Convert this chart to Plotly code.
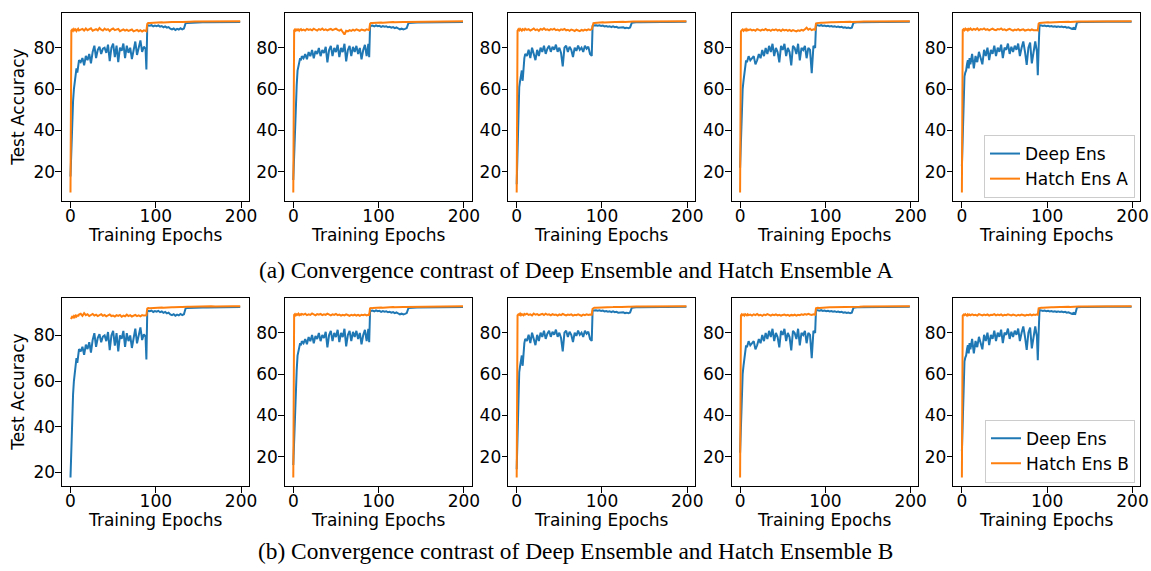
import plotly.graph_objects as go

W, H = 1151, 571

# ---------------- data ----------------
EPOCHS = [0, 1, 2, 3, 4, 5, 6, 7, 8, 9, 10,
          12, 14, 16, 18, 20, 22, 24, 26, 28, 30, 32, 34, 36, 38, 40, 42, 44, 46, 48, 50,
          52, 54, 56, 58, 60, 62, 64, 66, 68, 70, 72, 74, 76, 78, 80, 82, 84, 86, 88,
          89, 90, 91,
          93, 95, 97, 99, 101, 103, 105, 107, 109, 111, 113, 115, 117, 119, 121, 123, 125,
          127, 129, 131, 133, 135,
          137,
          140, 145, 150, 155, 160, 165, 170, 175, 180, 185, 190, 195,
          199]

DEEP_1 = [17.7, 31, 45, 54, 60, 64, 67, 70, 68, 72, 74,
          73, 75, 71.5, 76, 74, 77, 72.5, 78, 81, 75, 79, 80.5, 77, 79.5, 80, 77.5, 81.5, 73.5, 80, 82,
          75.5, 81, 73, 80, 78.5, 82, 75, 81, 77.5, 80, 74.5, 79, 83, 76.5, 80, 83.5, 78, 80.5, 79.5,
          69.5, 90.3, 90.8,
          90.6, 90.9, 90.3, 90.7, 90.4, 90.8, 90.2, 90.5, 89.9, 90.3, 89.7, 90.0, 89.2, 88.9, 89.3,
          88.6, 89.1, 88.8, 89.4, 88.9, 89.3, 91.9,
          92.0,
          92.1, 92.2, 92.2, 92.3, 92.3, 92.3, 92.4, 92.4, 92.4, 92.5, 92.5, 92.5,
          92.5]

DEEP_2 = [16, 30, 42, 52, 62, 69, 72, 73, 75, 74, 76,
          75, 77, 74.5, 78, 76, 79, 75, 78.5, 77, 80, 76, 79, 77.5, 80.5, 73, 79, 81, 76, 80, 78,
          81.5, 75.5, 80, 78, 82, 73.5, 79, 81, 76, 80.5, 78, 81, 77, 80, 74.5, 79, 81.5, 76, 82,
          75.5, 90.2, 90.7,
          90.8, 90.4, 90.9, 90.5, 90.7, 90.2, 90.6, 90.3, 90.5, 90.0, 90.2, 89.8, 90.1, 89.6, 89.9,
          89.4, 89.0, 89.3, 88.9, 89.2, 89.6, 92.0,
          92.2,
          92.2, 92.3, 92.3, 92.4, 92.4, 92.4, 92.5, 92.5, 92.5, 92.5, 92.6, 92.6,
          92.6]

DEEP_3 = [14, 35, 55, 61, 64, 67, 69, 64, 72, 75, 77,
          76, 79, 75, 80, 77.5, 74, 79, 76, 80, 78, 81, 77, 79.5, 81, 78, 80.5, 79, 81.5, 78, 80,
          77.5, 71, 80, 81, 78, 80.5, 79, 75.5, 80, 78.5, 81, 79, 80, 78, 81, 79.5, 80.5, 77, 76,
          90.5, 90.8, 90.9,
          90.9, 90.6, 90.8, 90.5, 90.7, 90.3, 90.5, 90.2, 90.4, 90.0, 90.3, 89.9, 90.1, 89.7, 89.8,
          89.6, 89.9, 89.5, 89.7, 89.4, 89.8, 92.1,
          92.3,
          92.3, 92.3, 92.4, 92.4, 92.4, 92.5, 92.5, 92.5, 92.5, 92.6, 92.6, 92.6,
          92.6]

DEEP_4 = [22, 38, 50, 60, 64, 68, 71, 74, 73, 75, 76,
          74, 75, 76, 72, 74, 77, 75, 79, 76, 80, 77, 81, 78, 82, 76, 80, 78, 73, 81, 79,
          82, 76, 80, 78, 71.5, 81, 80, 77, 82, 74, 80, 79, 81, 75, 80, 79, 67.8, 81, 80,
          91.0, 91.2, 91.0,
          90.8, 91.0, 90.6, 90.8, 90.5, 90.7, 90.4, 90.6, 90.3, 90.5, 90.1, 90.3, 90.0, 90.2, 89.8,
          90.0, 89.7, 89.9, 89.5, 89.8, 92.2, 92.4,
          92.4,
          92.4, 92.5, 92.5, 92.5, 92.5, 92.6, 92.6, 92.6, 92.6, 92.6, 92.6, 92.7,
          92.7]

DEEP_5 = [22.6, 40, 58, 66, 68, 69, 72, 74, 70, 75, 72,
          77, 70, 76, 73, 78, 75, 72, 79, 76, 80, 74, 79, 77, 81, 76, 80, 78, 81.5, 75, 80,
          79, 82, 77, 80.5, 78, 81, 79, 82, 76, 80, 83, 78, 71.7, 80, 82.5, 72.4, 79, 83, 78,
          66.7, 80, 90.9,
          90.8, 90.5, 90.7, 90.4, 90.6, 90.3, 90.5, 90.2, 90.4, 90.1, 90.3, 90.0, 90.2, 89.9, 90.1,
          89.7, 89.9, 89.4, 89.1, 89.6, 89.2, 92.3,
          92.4,
          92.4, 92.4, 92.5, 92.5, 92.5, 92.5, 92.6, 92.6, 92.6, 92.6, 92.6, 92.6,
          92.6]

HATCH_TAIL_1 = [91.9, 92.0, 92.1, 92.0, 92.2, 92.1, 92.2, 92.3, 92.2, 92.3, 92.3, 92.4, 92.3, 92.4,
                92.4, 92.5, 92.4, 92.5, 92.5, 92.5, 92.6, 92.6,
                92.6,
                92.6, 92.7, 92.7, 92.7, 92.7, 92.8, 92.7, 92.8, 92.8, 92.8, 92.8, 92.8,
                92.8]
HATCH_TAIL_2 = [92.0, 92.1, 92.1, 92.2, 92.2, 92.3, 92.2, 92.3, 92.3, 92.4, 92.4, 92.4, 92.5, 92.4,
                92.5, 92.5, 92.5, 92.6, 92.6, 92.6, 92.6, 92.7,
                92.7,
                92.7, 92.7, 92.8, 92.8, 92.8, 92.8, 92.8, 92.8, 92.9, 92.9, 92.9, 92.9,
                92.9]
HATCH_TAIL_3 = [92.1, 92.1, 92.2, 92.2, 92.3, 92.2, 92.3, 92.3, 92.4, 92.4, 92.4, 92.5, 92.4, 92.5,
                92.5, 92.5, 92.6, 92.5, 92.6, 92.6, 92.6, 92.7,
                92.7,
                92.7, 92.7, 92.7, 92.8, 92.8, 92.8, 92.8, 92.8, 92.8, 92.8, 92.8, 92.8,
                92.8]
HATCH_TAIL_4 = [92.1, 92.2, 92.2, 92.3, 92.3, 92.3, 92.4, 92.4, 92.4, 92.5, 92.4, 92.5, 92.5, 92.6,
                92.5, 92.6, 92.6, 92.6, 92.7, 92.6, 92.7, 92.7,
                92.7,
                92.7, 92.8, 92.8, 92.8, 92.8, 92.8, 92.8, 92.9, 92.8, 92.9, 92.9, 92.9,
                92.9]

HATCH_A_1 = [10, 88.3, 88.8, 88.2, 89.0, 88.5, 88.9, 88.1, 88.7, 89.2, 88.4,
             88.6, 89.1, 88.3, 89.3, 88.5, 88.9, 89.4, 88.2, 88.8, 89.0, 88.4, 89.5, 88.7, 88.3, 89.2,
             88.6, 89.0, 88.1, 88.9, 89.3, 88.5, 88.8, 89.1, 88.0, 88.6, 88.9, 88.3, 88.7, 88.1, 88.5,
             88.8, 87.9, 88.4, 88.6, 88.0, 88.5, 87.8, 88.4, 88.2,
             88.0, 91.5, 91.9] + HATCH_TAIL_1
HATCH_A_2 = [10, 88.5, 89.0, 88.4, 88.9, 88.6, 89.2, 88.3, 88.8, 89.1, 88.5,
             88.9, 88.4, 89.2, 88.7, 89.0, 88.5, 89.3, 88.8, 88.4, 89.1, 88.7, 89.4, 88.6, 89.0, 88.5,
             88.9, 89.2, 88.6, 88.9, 89.3, 88.7, 88.4, 88.9, 87.5, 86.5, 88.3, 88.0, 88.6, 88.2, 88.8,
             88.4, 89.0, 88.5, 88.3, 88.9, 88.6, 88.4, 89.0, 88.7,
             88.6, 91.7, 92.0] + HATCH_TAIL_2
HATCH_A_3 = [10, 88.2, 88.9, 88.4, 89.1, 88.6, 88.3, 89.0, 88.7, 88.5, 89.2,
             88.6, 89.0, 88.3, 88.8, 89.3, 88.5, 88.9, 88.2, 89.1, 88.7, 89.4, 88.6, 88.9, 88.4, 89.0,
             88.7, 89.2, 88.5, 88.8, 88.3, 88.9, 88.6, 89.1, 88.4, 88.7, 88.2, 88.8, 88.5, 88.1, 88.7,
             88.4, 88.0, 88.6, 88.3, 88.8, 88.4, 88.9, 88.6, 88.9,
             91.5, 91.9, 92.0] + HATCH_TAIL_3
HATCH_A_4 = [10, 88.0, 88.6, 88.9, 88.3, 88.8, 88.5, 89.1, 88.4, 88.9, 88.6,
             89.0, 88.5, 88.8, 88.3, 89.1, 88.7, 88.4, 88.9, 88.6, 89.2, 88.5, 88.8, 88.3, 88.9, 88.6,
             89.0, 88.4, 88.7, 88.2, 88.9, 88.5, 88.8, 88.3, 88.7, 88.1, 88.6, 88.4, 88.0, 88.5, 88.2,
             88.7, 88.4, 89.0, 89.8, 88.8, 89.3, 88.6, 89.0, 88.8,
             91.8, 92.0, 92.1] + HATCH_TAIL_4
HATCH_A_5 = [10, 88.6, 89.0, 88.5, 89.2, 88.7, 89.0, 88.4, 89.1, 88.8, 89.3,
             88.6, 89.1, 88.7, 89.4, 88.5, 89.0, 88.8, 89.3, 88.6, 89.0, 88.4, 88.9, 89.2, 88.7, 88.5,
             89.0, 88.8, 89.3, 88.6, 88.9, 88.4, 88.8, 89.1, 88.6, 88.3, 88.8, 88.5, 89.0, 88.4, 88.7,
             88.9, 88.3, 88.6, 88.8, 88.4, 88.9, 88.5, 88.7, 88.6,
             88.4, 91.7, 92.0] + HATCH_TAIL_3

HATCH_B_1 = [87.8, 87.6, 88.2, 87.9, 88.5, 88.0, 88.7, 88.3, 89.0, 88.4, 89.2,
             89.5, 88.6, 89.8, 88.9, 89.3, 88.5, 89.0, 89.4, 88.7, 89.1, 88.5, 88.9, 89.3, 88.6, 89.0,
             88.4, 88.8, 89.2, 88.5, 88.7, 88.3, 88.9, 88.6, 89.0, 88.2, 88.7, 88.4, 89.1, 88.5, 88.9,
             88.3, 88.6, 89.0, 88.5, 88.8, 88.4, 88.9, 88.7, 89.0,
             88.8, 91.8, 92.0] + HATCH_TAIL_1
HATCH_B_2 = [10, 88.7, 89.1, 88.5, 89.0, 88.8, 89.3, 88.6, 89.0, 88.7, 89.2,
             88.8, 89.3, 88.6, 89.0, 88.7, 89.4, 88.9, 88.5, 89.1, 88.8, 89.2, 88.6, 89.0, 88.7, 89.3,
             88.9, 88.5, 89.0, 88.7, 89.2, 88.6, 88.9, 88.4, 88.8, 88.5, 89.0, 88.6, 88.3, 88.8, 88.5,
             88.9, 88.4, 88.7, 88.3, 88.8, 88.6, 88.9, 88.5, 88.8,
             88.7, 91.9, 92.1] + HATCH_TAIL_2
HATCH_B_3 = [10, 88.4, 88.9, 88.6, 89.2, 88.5, 89.0, 88.7, 88.4, 89.1, 88.8,
             89.2, 88.6, 88.9, 88.4, 89.3, 88.7, 89.0, 88.5, 88.8, 89.1, 88.6, 89.2, 88.7, 88.9, 88.4,
             89.0, 88.6, 88.8, 88.3, 88.9, 88.5, 89.1, 88.7, 88.4, 88.8, 88.6, 88.9, 88.3, 88.7, 88.5,
             88.9, 88.6, 88.2, 88.8, 88.5, 88.9, 88.6, 88.8, 88.7,
             91.6, 91.9, 92.1] + HATCH_TAIL_3
HATCH_B_4 = [10, 88.5, 89.0, 88.6, 88.9, 88.4, 89.1, 88.7, 88.5, 89.0, 88.6,
             88.9, 88.4, 89.0, 88.6, 89.2, 88.5, 88.8, 88.3, 88.9, 88.6, 89.1, 88.7, 88.4, 88.9, 88.6,
             89.0, 88.5, 88.8, 88.4, 88.7, 88.9, 88.5, 88.8, 88.3, 88.7, 88.5, 88.9, 88.4, 88.8, 88.6,
             89.0, 88.7, 89.1, 88.8, 89.2, 88.9, 88.7, 89.0, 88.8,
             91.9, 92.1, 92.2] + HATCH_TAIL_4
HATCH_B_5 = [10, 88.3, 88.8, 88.5, 89.0, 88.6, 88.2, 88.9, 88.5, 88.8, 88.4,
             88.9, 88.5, 88.7, 88.3, 89.0, 88.6, 88.4, 88.8, 88.5, 88.9, 88.3, 88.7, 88.6, 89.0, 88.4,
             88.8, 88.5, 88.9, 88.3, 88.7, 88.5, 88.9, 88.6, 88.4, 88.8, 88.5, 88.2, 88.7, 88.4, 88.8,
             88.6, 88.3, 88.7, 88.5, 88.9, 88.4, 88.8, 88.6, 88.9,
             88.7, 91.8, 92.0] + HATCH_TAIL_3

DEEP = [DEEP_1, DEEP_2, DEEP_3, DEEP_4, DEEP_5]
HATCH_A = [HATCH_A_1, HATCH_A_2, HATCH_A_3, HATCH_A_4, HATCH_A_5]
HATCH_B = [HATCH_B_1, HATCH_B_2, HATCH_B_3, HATCH_B_4, HATCH_B_5]

SERIES_DEEP = "Deep Ens"
SERIES_HATCH = ["Hatch Ens A", "Hatch Ens B"]
X_TICKS = [0, 100, 200]
Y_TICKS = [20, 40, 60, 80]
X_TITLE = "Training Epochs"
Y_TITLE = "Test Accuracy"
CAPTIONS = ["(a) Convergence contrast of Deep Ensemble and Hatch Ensemble A",
            "(b) Convergence contrast of Deep Ensemble and Hatch Ensemble B"]

# ---------------- layout (pixels) ----------------
BLUE = "#1f77b4"
ORANGE = "#ff7f0e"
COL_LEFT = [62, 284.8, 508.2, 731.6, 953.4]
PANEL_W = 186.7
ROW_TOP = [12.7, 297.7]
ROW_BOTTOM = [201.0, 486.0]
FONT = "DejaVu Sans, Arial, sans-serif"
FS = 17

fig = go.Figure()
layout = dict(
    width=W, height=H, margin=dict(l=0, r=0, t=0, b=0),
    paper_bgcolor="white", plot_bgcolor="white", template="none",
    font=dict(family=FONT, size=FS, color="black"),
    annotations=[],
)

xmin, xmax = min(EPOCHS), max(EPOCHS)
xpad = 0.05 * (xmax - xmin)

for r in range(2):
    hatch = HATCH_A if r == 0 else HATCH_B
    legend_name = "legend" if r == 0 else "legend2"
    for c in range(5):
        idx = r * 5 + c + 1
        xa = "x" if idx == 1 else f"x{idx}"
        ya = "y" if idx == 1 else f"y{idx}"
        show = (c == 4)
        fig.add_trace(go.Scatter(x=EPOCHS, y=DEEP[c], mode="lines", name=SERIES_DEEP,
                                 line=dict(color=BLUE, width=2), xaxis=xa, yaxis=ya,
                                 showlegend=show, legend=legend_name))
        fig.add_trace(go.Scatter(x=EPOCHS, y=hatch[c], mode="lines", name=SERIES_HATCH[r],
                                 line=dict(color=ORANGE, width=2), xaxis=xa, yaxis=ya,
                                 showlegend=show, legend=legend_name))
        lo = min(min(DEEP[c]), min(hatch[c]))
        hi = max(max(DEEP[c]), max(hatch[c]))
        ypad = 0.05 * (hi - lo)
        x0 = COL_LEFT[c] / W
        x1 = (COL_LEFT[c] + PANEL_W) / W
        y0 = 1 - ROW_BOTTOM[r] / H
        y1 = 1 - ROW_TOP[r] / H
        common = dict(showline=True, linecolor="black", linewidth=1.1, mirror=True,
                      ticks="outside", ticklen=5.5, tickwidth=1.1, tickcolor="black",
                      showgrid=False, zeroline=False, automargin=False,
                      tickfont=dict(family=FONT, size=FS, color="black"))
        layout["xaxis" if idx == 1 else f"xaxis{idx}"] = dict(
            domain=[x0, x1], range=[xmin - xpad, xmax + xpad], tickvals=X_TICKS,
            anchor=ya, ticklabelstandoff=-6, **common)
        layout["yaxis" if idx == 1 else f"yaxis{idx}"] = dict(
            domain=[y0, y1], range=[lo - ypad, hi + ypad], tickvals=Y_TICKS,
            anchor=xa, ticklabelstandoff=-3, **common)
        # x-axis title
        layout["annotations"].append(dict(
            text=X_TITLE, x=(COL_LEFT[c] + PANEL_W / 2) / W,
            y=1 - (ROW_BOTTOM[r] + 34) / H, xref="paper", yref="paper",
            xanchor="center", yanchor="middle", showarrow=False,
            font=dict(family=FONT, size=FS, color="black")))
    # y-axis title
    layout["annotations"].append(dict(
        text=Y_TITLE, x=18 / W, y=1 - (ROW_TOP[r] + ROW_BOTTOM[r]) / 2 / H,
        xref="paper", yref="paper", xanchor="center", yanchor="middle",
        textangle=-90, showarrow=False, font=dict(family=FONT, size=FS, color="black")))
    # caption
    layout["annotations"].append(dict(
        text=CAPTIONS[r], x=575.5 / W, y=1 - (270 if r == 0 else 551) / H,
        xref="paper", yref="paper", xanchor="center", yanchor="middle", showarrow=False,
        font=dict(family="Liberation Serif, Times New Roman, serif", size=23.4, color="black")))

leg_common = dict(bgcolor="rgba(255,255,255,0.8)", bordercolor="#cccccc", borderwidth=1,
                  font=dict(family=FONT, size=FS, color="black"),
                  xref="paper", yref="paper", xanchor="right", yanchor="bottom",
                  tracegroupgap=0, itemwidth=30)
layout["legend"] = dict(x=1135 / W, y=1 - 198 / H, **leg_common)
layout["legend2"] = dict(x=1135 / W, y=1 - 482.7 / H, **leg_common)

fig.update_layout(**layout)
fig.write_html("out.html")
